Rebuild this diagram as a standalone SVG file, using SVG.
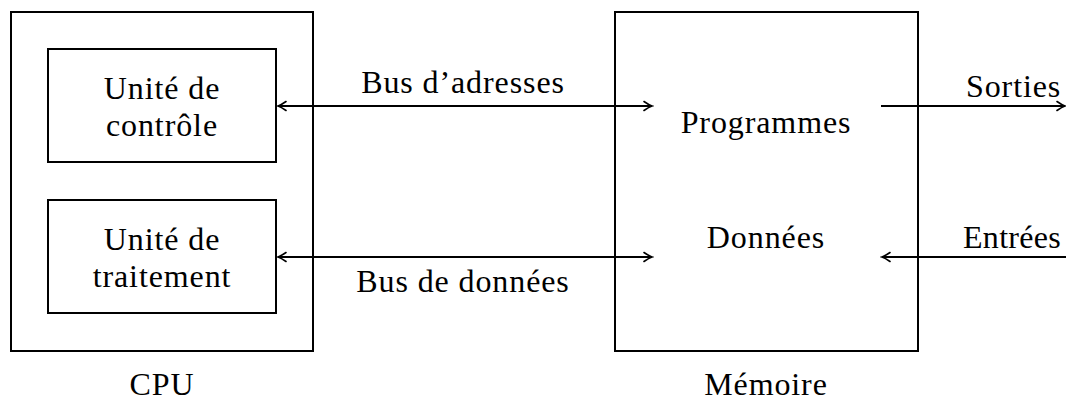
<svg xmlns="http://www.w3.org/2000/svg" width="1066" height="403" viewBox="0 0 1066 403">
  <style>
    .box { fill: none; stroke: #000; stroke-width: 2; }
    .wire { fill: none; stroke: #000; stroke-width: 2; }
    text { font-family: "Liberation Serif", "DejaVu Serif", serif; font-size: 32px; letter-spacing: 0.9px; fill: #000; text-anchor: middle; }
    text.io { text-anchor: start; }
    text.tight { letter-spacing: 0.3px; }
  </style>
  <defs>
    <!-- TeX-style "to" arrowhead -->
    <marker id="tip" viewBox="-10 -6 12 12" markerWidth="12" markerHeight="12" refX="0" refY="0" orient="auto-start-reverse" markerUnits="userSpaceOnUse">
      <path d="M -8 -4.5 Q -3 -1 0 0 Q -3 1 -8 4.5" fill="none" stroke="#000" stroke-width="1.6" stroke-linecap="round"/>
    </marker>
  </defs>

  <g id="cpu">
    <rect class="box" x="11" y="12" width="302" height="339"/>
    <text x="162" y="395">CPU</text>
  </g>
  <g id="controle">
    <rect class="box" x="48" y="49" width="228" height="113"/>
    <text x="162" y="99">Unité de</text>
    <text x="162" y="136">contrôle</text>
  </g>
  <g id="traitement">
    <rect class="box" x="48" y="200" width="228" height="113"/>
    <text x="162" y="250">Unité de</text>
    <text x="162" y="287">traitement</text>
  </g>
  <g id="memoire">
    <rect class="box" x="615" y="12" width="303" height="339"/>
    <text x="766" y="133">Programmes</text>
    <text x="766" y="248">Données</text>
    <text x="766" y="395">Mémoire</text>
  </g>

  <g id="connectors">
    <line class="wire" x1="278" y1="106" x2="652" y2="106" marker-start="url(#tip)" marker-end="url(#tip)"/>
    <line class="wire" x1="278" y1="257" x2="652" y2="257" marker-start="url(#tip)" marker-end="url(#tip)"/>
    <line class="wire" x1="881" y1="106" x2="1065" y2="106" marker-end="url(#tip)"/>
    <line class="wire" x1="1066" y1="257" x2="882" y2="257" marker-end="url(#tip)"/>
    <text x="463" y="93">Bus d’adresses</text>
    <text x="463" y="292">Bus de données</text>
    <text class="io" x="966" y="97">Sorties</text>
    <text class="io tight" x="963" y="248">Entrées</text>
  </g>
</svg>
